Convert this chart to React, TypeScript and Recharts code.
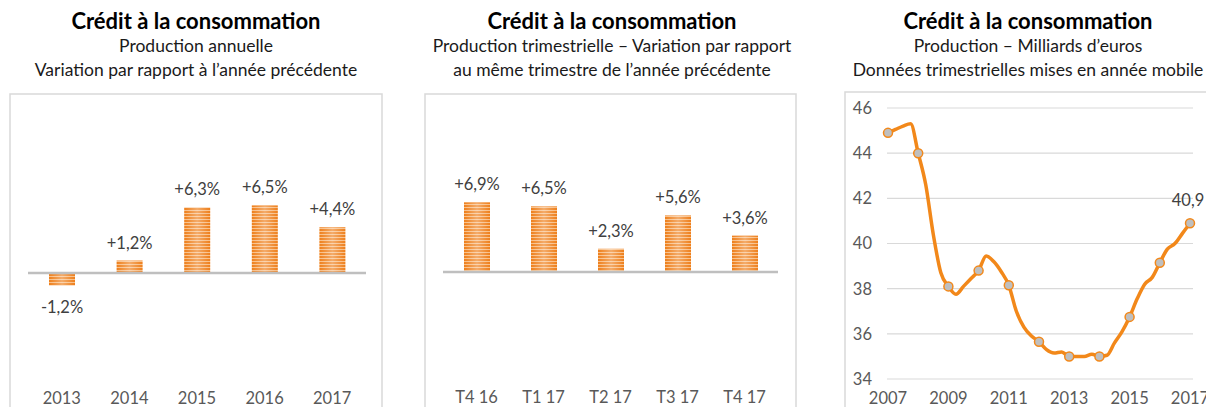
import React from "react";
import {
  BarChart,
  Bar,
  XAxis,
  YAxis,
  LabelList,
  ReferenceLine,
  LineChart,
  Line,
  CartesianGrid,
} from "recharts";

// annual production, yoy change in %
const annualCategories = ["2013", "2014", "2015", "2016", "2017"];
const annualValues = [-1.2, 1.2, 6.3, 6.5, 4.4];

// quarterly production, change vs same quarter previous year
const quarterCategories = ["T4 16", "T1 17", "T2 17", "T3 17", "T4 17"];
const quarterValues = [6.9, 6.5, 2.3, 5.6, 3.6];

// production, billions of euros, rolling year
const linePeriods = [
  "2007", "2007-T2", "2007-T3", "2007-T4",
  "2008", "2008-T2", "2008-T3", "2008-T4",
  "2009", "2009-T2", "2009-T3", "2009-T4",
  "2010", "2010-T2", "2010-T3", "2010-T4",
  "2011", "2011-T2", "2011-T3", "2011-T4",
  "2012", "2012-T2", "2012-T3", "2012-T4",
  "2013", "2013-T2", "2013-T3", "2013-T4",
  "2014", "2014-T2", "2014-T3", "2014-T4",
  "2015", "2015-T2", "2015-T3", "2015-T4",
  "2016", "2016-T2", "2016-T3", "2016-T4",
  "2017",
];
const lineValues = [
  44.9, 45.05, 45.2, 45.3,
  44.0, 42.6, 40.4, 38.7,
  38.1, 37.75, 38.1, 38.45,
  38.8, 39.45, 39.2, 38.75,
  38.15, 37.0, 36.3, 35.9,
  35.65, 35.3, 35.15, 35.2,
  35.0, 35.0, 35.0, 35.1,
  35.0, 35.05, 35.6, 36.1,
  36.75, 37.55, 38.2, 38.5,
  39.15, 39.75, 40.0, 40.45,
  40.9,
];
const lineXTicks = ["2007", "2009", "2011", "2013", "2015", "2017"];
const lineYTicks = [34, 36, 38, 40, 42, 44, 46];

const annualData = annualCategories.map((name, i) => ({ name, value: annualValues[i] }));
const quarterData = quarterCategories.map((name, i) => ({ name, value: quarterValues[i] }));
const lineData = linePeriods.map((period, i) => ({ period, value: lineValues[i] }));

const FONT = "Lato, Carlito, sans-serif";
const ORANGE = "#F2881A";

const fmtPct = (v: number) => (v > 0 ? "+" : "") + v.toFixed(1).replace(".", ",") + "%";

const StripedBar = (props: any) => {
  const { x, y, width, height } = props;
  const top = height < 0 ? y + height : y;
  const h = Math.abs(height);
  return (
    <g>
      <rect x={x} y={top} width={width} height={h} fill="url(#stripes)" />
      <rect x={x} y={top} width={width} height={h} fill="url(#sheen)" />
    </g>
  );
};

const BarValueLabel = (props: any) => {
  const { x, y, width, value } = props;
  const neg = value < 0;
  // for negative bars recharts gives y at the bar end and a negative height
  const ty = neg ? y + 28 : y - 12;
  return (
    <text x={x + width / 2} y={ty} textAnchor="middle" fontFamily={FONT} fontSize={16.5} fill="#404040">
      {fmtPct(value)}
    </text>
  );
};

const LineDot = (props: any) => {
  const { cx, cy, payload, index } = props;
  if (payload.period.includes("T")) return <g key={"d" + index} />;
  return <circle key={"d" + index} cx={cx} cy={cy} r={4.5} fill="#BFBFBF" stroke={ORANGE} strokeWidth={1.5} />;
};

const LastLabel = (props: any) => {
  const { x, y, index, value } = props;
  if (index !== lineData.length - 1) return null;
  return (
    <text x={x - 2} y={y - 17} textAnchor="middle" fontFamily={FONT} fontSize={16.5} fill="#404040">
      {String(value).replace(".", ",")}
    </text>
  );
};

const tickStyle = { fontFamily: FONT, fontSize: 16.5, fill: "#595959" };

const Titles = ({ cx, lines }: { cx: number; lines: string[] }) => (
  <g fontFamily={FONT} textAnchor="middle">
    <text x={cx} y={29} fontSize={22} fontWeight={700} fill="#000">
      Crédit à la consommation
    </text>
    <text x={cx} y={52} fontSize={17.5} fill="#1a1a1a">
      {lines[0]}
    </text>
    <text x={cx} y={76} fontSize={17.5} fill="#1a1a1a">
      {lines[1]}
    </text>
  </g>
);

export default function App() {
  return (
    <div style={{ position: "absolute", left: 0, top: 0, width: 1206, height: 407, overflow: "hidden", background: "#fff" }}>
      <svg width={1206} height={407} style={{ position: "absolute", left: 0, top: 0 }}>
        <defs>
          <pattern id="stripes" patternUnits="userSpaceOnUse" width={8} height={3}>
            <rect x={0} y={0} width={8} height={2} fill="#EE7F1B" />
            <rect x={0} y={2} width={8} height={1} fill="#F8BE86" />
          </pattern>
          <linearGradient id="sheen" x1="0" y1="0" x2="1" y2="0">
            <stop offset="0" stopColor="#fff" stopOpacity={0} />
            <stop offset="0.5" stopColor="#fff" stopOpacity={0.35} />
            <stop offset="1" stopColor="#fff" stopOpacity={0} />
          </linearGradient>
        </defs>
        <rect x={10} y={94} width={372} height={330} fill="none" stroke="#D9D9D9" strokeWidth={1.5} />
        <rect x={425} y={94} width={371} height={330} fill="none" stroke="#D9D9D9" strokeWidth={1.5} />
        <rect x={845} y={92} width={380} height={330} fill="none" stroke="#D9D9D9" strokeWidth={1.5} />
        <Titles cx={196} lines={["Production annuelle", "Variation par rapport à l’année précédente"]} />
        <Titles
          cx={612}
          lines={["Production trimestrielle – Variation par rapport", "au même trimestre de l’année précédente"]}
        />
        <Titles cx={1028} lines={["Production – Milliards d’euros", "Données trimestrielles mises en année mobile"]} />
      </svg>

      <div style={{ position: "absolute", left: 10, top: 94 }}>
        <BarChart width={372} height={313} data={annualData} margin={{ top: 75, right: 16, left: 18, bottom: 0 }}>
          <XAxis dataKey="name" height={30} axisLine={false} tickLine={false} tickSize={0} tickMargin={15} tick={tickStyle} />
          <YAxis hide domain={[-10, 10]} />
          <ReferenceLine y={0} stroke="#BFBFBF" strokeWidth={2.5} />
          <Bar dataKey="value" barSize={26} shape={<StripedBar />} isAnimationActive={false}>
            <LabelList dataKey="value" content={<BarValueLabel />} />
          </Bar>
        </BarChart>
      </div>

      <div style={{ position: "absolute", left: 425, top: 94 }}>
        <BarChart width={371} height={313} data={quarterData} margin={{ top: 77, right: 18, left: 18, bottom: 0 }}>
          <XAxis dataKey="name" height={34} axisLine={false} tickLine={false} tickSize={0} tickMargin={18} tick={tickStyle} />
          <YAxis hide domain={[-10, 10]} />
          <ReferenceLine y={0} stroke="#BFBFBF" strokeWidth={2.5} />
          <Bar dataKey="value" barSize={26} shape={<StripedBar />} isAnimationActive={false}>
            <LabelList dataKey="value" content={<BarValueLabel />} />
          </Bar>
        </BarChart>
      </div>

      <div style={{ position: "absolute", left: 845, top: 92 }}>
        <LineChart width={381} height={315} data={lineData} margin={{ top: 16, right: 33, left: 0, bottom: 0 }}>
          <CartesianGrid vertical={false} stroke="#D9D9D9" strokeWidth={1.2} />
          <XAxis
            dataKey="period"
            ticks={lineXTicks}
            interval={0}
            height={28}
            padding={{ left: 1, right: 3 }}
            axisLine={false}
            tickLine={false}
            tickSize={0}
            tickMargin={13}
            tick={tickStyle}
          />
          <YAxis
            domain={[34, 46]}
            ticks={lineYTicks}
            width={42}
            axisLine={false}
            tickLine={false}
            tickSize={0}
            tickMargin={15}
            tick={tickStyle}
          />
          <Line
            type="monotone"
            dataKey="value"
            stroke={ORANGE}
            strokeWidth={3.5}
            dot={<LineDot />}
            activeDot={false}
            isAnimationActive={false}
          >
            <LabelList dataKey="value" content={<LastLabel />} />
          </Line>
        </LineChart>
      </div>
    </div>
  );
}
